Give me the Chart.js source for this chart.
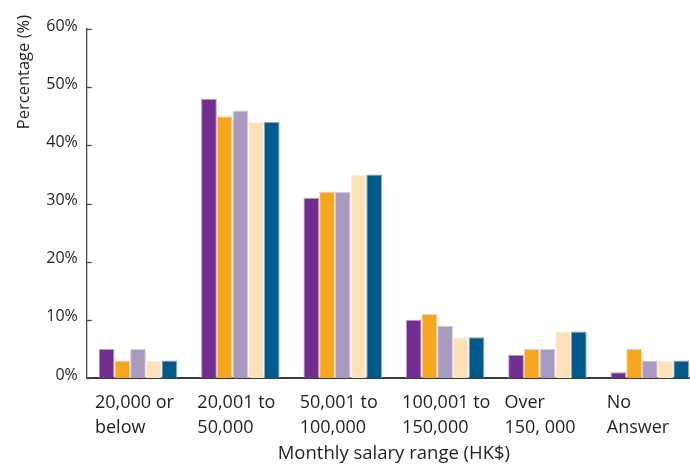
<!DOCTYPE html>
<html>
<head>
<meta charset="utf-8">
<script src="https://cdn.jsdelivr.net/npm/chart.js@4/dist/chart.umd.min.js"></script>
<style>
  html, body { margin: 0; padding: 0; background: #ffffff; overflow: hidden; }
  #wrap { width: 690px; height: 465px; overflow: hidden; }
  canvas { display: block; }
</style>
</head>
<body>
<div id="wrap"><canvas id="chart" width="701" height="465"></canvas></div>
<script>
// Salary bands (HK$ per month)
const categories = [
  ['20,000 or', 'below'],
  ['20,001 to', '50,000'],
  ['50,001 to', '100,000'],
  ['100,001 to', '150,000'],
  ['Over', '150, 000'],
  ['No', 'Answer']
];

// Share of respondents in each band (%), one array per series
const series1 = [5, 48, 31, 10, 4, 1];
const series2 = [3, 45, 32, 11, 5, 5];
const series3 = [5, 46, 32, 9, 5, 3];
const series4 = [3, 44, 35, 7, 8, 3];
const series5 = [3, 44, 35, 7, 8, 3];

const yTicks = [0, 10, 20, 30, 40, 50, 60];

const fills = ['#712D8F', '#F6A51F', '#A99BC0', '#FDE2B9', '#005A8C'];
const edges = ['#B79BCB', '#FBD08F', '#D6CEE2', '#FFF0DD', '#7FA8C4'];
const seriesData = [series1, series2, series3, series4, series5];

const textColor = '#231F20';
const axisColor = '#4a4a4a';

// Short tick marks pointing into the plot from the y axis
const innerTicks = {
  id: 'innerTicks',
  afterDraw(chart) {
    const y = chart.scales.y;
    const ctx = chart.ctx;
    ctx.save();
    ctx.strokeStyle = axisColor;
    ctx.lineWidth = 1.3;
    yTicks.forEach(v => {
      const py = Math.round(y.getPixelForValue(v)) + 0.5;
      ctx.beginPath();
      ctx.moveTo(y.right, py);
      ctx.lineTo(y.right + 5, py);
      ctx.stroke();
    });
    ctx.restore();
  }
};

new Chart(document.getElementById('chart'), {
  type: 'bar',
  data: {
    labels: categories,
    datasets: seriesData.map((d, i) => ({
      label: 'Series ' + (i + 1),
      data: d,
      backgroundColor: fills[i],
      borderColor: edges[i],
      borderWidth: 1,
      borderSkipped: 'bottom',
      categoryPercentage: 0.767,
      barPercentage: 1.0
    }))
  },
  options: {
    responsive: false,
    devicePixelRatio: 1,
    animation: false,
    layout: { padding: { top: 15, right: 0, bottom: 0, left: 0 } },
    plugins: {
      legend: { display: false },
      tooltip: { enabled: false },
      // Rotated y-axis caption, flush with the top of the chart
      title: {
        display: true,
        text: 'Percentage (%)',
        position: 'left',
        align: 'end',
        color: textColor,
        font: { family: 'Open Sans', size: 16.5, weight: 'normal', lineHeight: 1.2 },
        padding: { top: 14, bottom: 4 }
      }
    },
    scales: {
      x: {
        grid: { display: false, drawTicks: false },
        border: { display: true, color: '#3a3a3a', width: 2 },
        ticks: {
          color: textColor,
          font: { family: 'Open Sans', size: 18, lineHeight: 1.36 },
          align: 'start',
          labelOffset: -43,
          padding: 13,
          maxRotation: 0,
          autoSkip: false
        },
        title: {
          display: true,
          text: 'Monthly salary range (HK$)',
          color: textColor,
          font: { family: 'Open Sans', size: 18.5, lineHeight: 1.2 },
          padding: { top: 0, bottom: 0 }
        },
        afterFit(scale) {
          scale.paddingLeft = 0;
          scale.paddingRight = 0;
          scale.height = 87;
        }
      },
      y: {
        min: 0,
        max: 60,
        grid: { display: false, drawTicks: false },
        border: { display: true, color: axisColor, width: 1.3 },
        afterBuildTicks(scale) {
          scale.ticks = yTicks.map(v => ({ value: v }));
        },
        ticks: {
          color: textColor,
          font: { family: 'Open Sans', size: 16, lineHeight: 1.6 },
          padding: 9,
          labelOffset: -3,
          callback: v => v + '%'
        },
        afterFit(scale) {
          scale.paddingTop = 29;
          scale.paddingBottom = 0;
          scale.width = 49;
        }
      }
    }
  },
  plugins: [innerTicks]
});
</script>
</body>
</html>
